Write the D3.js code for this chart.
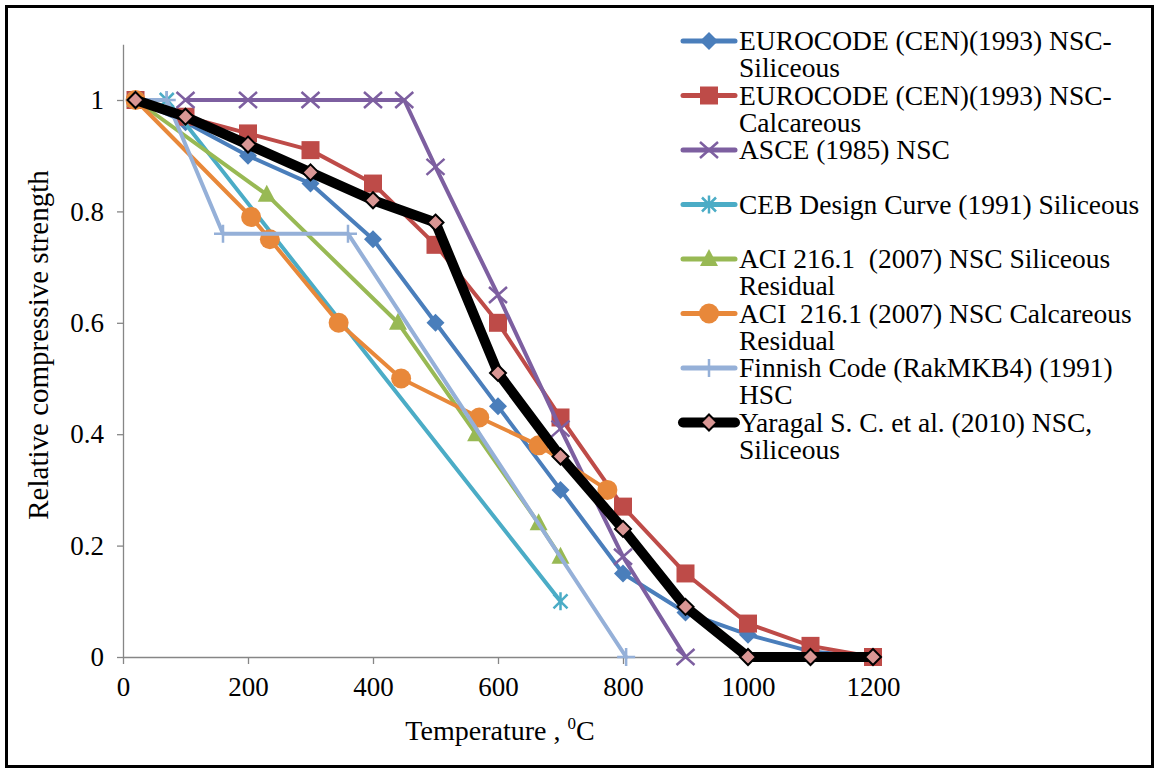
<!DOCTYPE html>
<html>
<head>
<meta charset="utf-8">
<script src="https://cdn.jsdelivr.net/npm/d3@7"></script>
<style>
body { margin: 0; background: #fff; }
svg { display: block; }
svg text { font-family: "Liberation Serif", "Times New Roman", serif; }
</style>
</head>
<body>
<div id="main"></div>
<script>
// [temperature °C, relative strength]
const eurocodeSiliceous = [[20,1],[100,0.96],[200,0.9],[300,0.85],[400,0.75],[500,0.6],[600,0.45],[700,0.3],[800,0.15],[900,0.08],[1000,0.04],[1100,0.01],[1200,0]];
const eurocodeCalcareous = [[20,1],[100,0.97],[200,0.94],[300,0.91],[400,0.85],[500,0.74],[600,0.6],[700,0.43],[800,0.27],[900,0.15],[1000,0.06],[1100,0.02],[1200,0]];
const asce = [[100,1],[200,1],[300,1],[400,1],[450,1],[500,0.88],[600,0.65],[700,0.41],[800,0.18],[900,0]];
const ceb = [[20,1],[70,1],[700,0.1]];
const aciSiliceous = [[20,1],[230,0.83],[440,0.6],[565,0.4],[665,0.24],[700,0.18]];
const aciCalcareous = [[20,1],[205,0.79],[235,0.75],[345,0.6],[445,0.5],[570,0.43],[665,0.38],[775,0.3]];
const finnish = [[20,1],[70,1],[160,0.76],[360,0.76],[805,0]];
const yaragal = [[20,1],[100,0.97],[200,0.92],[300,0.87],[400,0.82],[500,0.78],[600,0.51],[700,0.36],[800,0.23],[900,0.09],[1000,0],[1100,0],[1200,0]];

const legendLabels = [
  ["EUROCODE (CEN)(1993) NSC-", "Siliceous"],
  ["EUROCODE (CEN)(1993) NSC-", "Calcareous"],
  ["ASCE (1985) NSC"],
  ["CEB Design Curve (1991) Siliceous"],
  ["ACI 216.1  (2007) NSC Siliceous", "Residual"],
  ["ACI  216.1 (2007) NSC Calcareous", "Residual"],
  ["Finnish Code (RakMKB4) (1991)", "HSC"],
  ["Yaragal S. C. et al. (2010) NSC,", "Siliceous"]
];
const xTicks = [0, 200, 400, 600, 800, 1000, 1200];
const yTicks = [0, 0.2, 0.4, 0.6, 0.8, 1];

const seriesData = [eurocodeSiliceous, eurocodeCalcareous, asce, ceb, aciSiliceous, aciCalcareous, finnish, yaragal];
const styles = [
  { color: '#4a7ebb', width: 4, marker: 'diamond' },
  { color: '#be4b48', width: 4, marker: 'square' },
  { color: '#7d5fa0', width: 4, marker: 'x' },
  { color: '#4bacc6', width: 4, marker: 'star' },
  { color: '#98b954', width: 4, marker: 'triangle' },
  { color: '#e8883a', width: 4, marker: 'circle' },
  { color: '#95b0d8', width: 4, marker: 'plus' },
  { color: '#000000', width: 10, marker: 'pinkdiamond' }
];

const width = 1159, height = 773;
const svg = d3.select('#main').append('svg').attr('width', width).attr('height', height);

svg.append('rect')
  .attr('x', 6.5).attr('y', 6.5).attr('width', 1146).attr('height', 760)
  .attr('fill', '#fff').attr('stroke', '#000').attr('stroke-width', 3);

const x = d3.scaleLinear().domain([0, 1200]).range([123, 873]);
const y = d3.scaleLinear().domain([0, 1.1]).range([657, 657 - 1.1 * 557]);

// axes
const yAxis = svg.append('g').attr('transform', 'translate(123,0)')
  .call(d3.axisLeft(y).tickValues(yTicks).tickSize(6).tickSizeOuter(0).tickPadding(13).tickFormat(d => String(d)));
const xAxis = svg.append('g').attr('transform', 'translate(0,657)')
  .call(d3.axisBottom(x).tickValues(xTicks).tickSize(7).tickSizeOuter(0).tickPadding(13).tickFormat(d => String(d)));
[xAxis, yAxis].forEach(a => {
  a.selectAll('path, line').attr('stroke', '#868686').attr('stroke-width', 1.3);
  a.selectAll('text').attr('font-size', 27).attr('fill', '#000');
});

svg.append('text')
  .attr('transform', 'translate(48,345) rotate(-90)')
  .attr('text-anchor', 'middle').attr('font-size', 29)
  .text('Relative  compressive strength');

const xt = svg.append('text').attr('x', 500).attr('y', 740).attr('text-anchor', 'middle').attr('font-size', 28);
xt.append('tspan').text('Temperature , ');
xt.append('tspan').attr('font-size', 17).attr('dy', -11).text('0');
xt.append('tspan').attr('dy', 11).text('C');

function markerPath(type) {
  switch (type) {
    case 'diamond': return 'M0,-9L9,0L0,9L-9,0Z';
    case 'square': return 'M-9,-9H9V9H-9Z';
    case 'triangle': return 'M0,-10L9,7H-9Z';
    case 'pinkdiamond': return 'M0,-8L8,0L0,8L-8,0Z';
    case 'x': return 'M-9,-8L9,8M-9,8L9,-8';
    case 'star': return 'M-7,-7L7,7M-7,7L7,-7M0,-9V9';
    case 'plus': return 'M0,-9V9M-9,0H9';
  }
}

function drawMarker(g, st) {
  if (st.marker === 'circle') {
    g.append('circle').attr('r', 10).attr('fill', st.color);
  } else if (st.marker === 'pinkdiamond') {
    g.append('path').attr('d', markerPath('pinkdiamond')).attr('fill', '#d99694').attr('stroke', '#000').attr('stroke-width', 2);
  } else if (['x', 'star', 'plus'].includes(st.marker)) {
    g.append('path').attr('d', markerPath(st.marker)).attr('fill', 'none').attr('stroke', st.color).attr('stroke-width', 2.5);
  } else {
    g.append('path').attr('d', markerPath(st.marker)).attr('fill', st.color);
  }
}

const line = d3.line().x(d => x(d[0])).y(d => y(d[1]));

seriesData.forEach((data, i) => {
  const st = styles[i];
  const g = svg.append('g');
  g.append('path').datum(data).attr('d', line)
    .attr('fill', 'none').attr('stroke', st.color).attr('stroke-width', st.width)
    .attr('stroke-linejoin', 'round').attr('stroke-linecap', 'round');
  g.selectAll('.m').data(data).enter().append('g')
    .attr('transform', d => `translate(${x(d[0])},${y(d[1])})`)
    .each(function () { drawMarker(d3.select(this), st); });
});

// legend
const legend = svg.append('g');
legendLabels.forEach((lines, i) => {
  const st = styles[i];
  const ly = 41 + i * 54.5;
  const row = legend.append('g').attr('transform', `translate(0,${ly})`);
  row.append('line').attr('x1', 683).attr('x2', 735).attr('y1', 0).attr('y2', 0)
    .attr('stroke', st.color).attr('stroke-width', st.width === 10 ? 10 : 5).attr('stroke-linecap', 'round');
  drawMarker(row.append('g').attr('transform', 'translate(709,0)'), st);
  lines.forEach((t, j) => {
    row.append('text').attr('x', 739).attr('y', 9 + j * 27).attr('font-size', 27.5)
      .style('white-space', 'pre').text(t);
  });
});
</script>
</body>
</html>
